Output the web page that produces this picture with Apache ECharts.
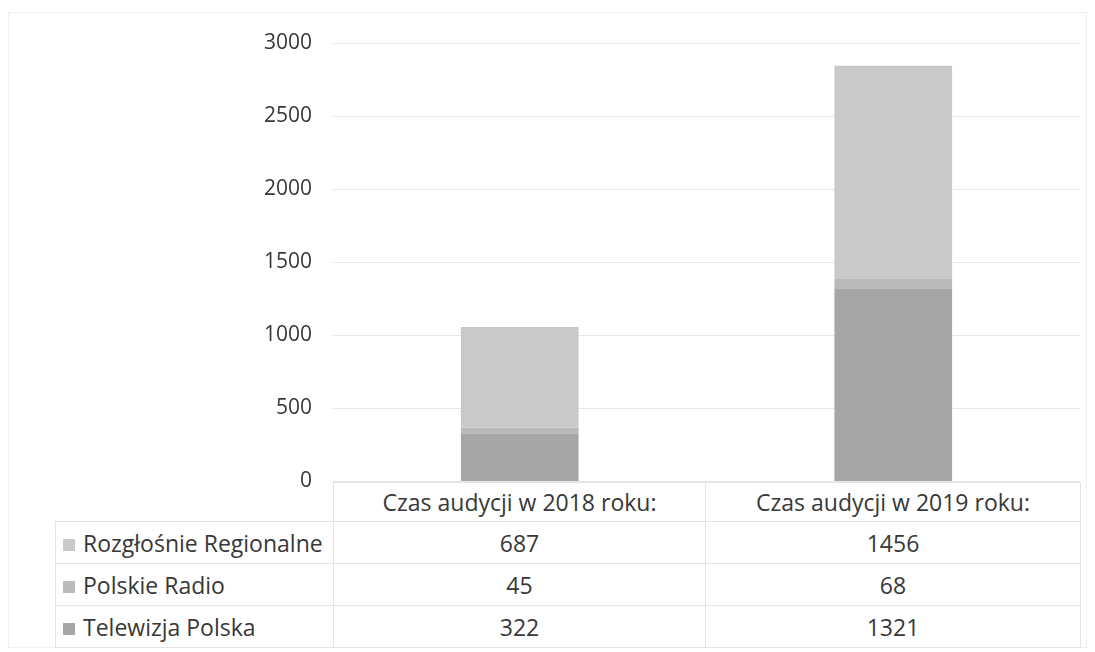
<!DOCTYPE html>
<html>
<head>
<meta charset="utf-8">
<script src="https://cdn.jsdelivr.net/npm/echarts@6/dist/echarts.min.js"></script>
<style>
    body { margin: 0; background: #fff; }
    #wrap { position: relative; width: 1095px; height: 652px; }
    #frame { position: absolute; left: 8px; top: 12px; width: 1079px; height: 636px; border: 1px solid #f0f0f0; box-sizing: border-box; }
    #chart { position: absolute; left: 0; top: 0; width: 1095px; height: 652px; }
    #tbl { position: absolute; left: 55px; top: 482px; border-collapse: collapse; table-layout: fixed; width: 1025px;
           font-family: "Open Sans", sans-serif; font-size: 23px; color: #383838; }
    #tbl td { border: 1px solid #e4e4e4; height: 41px; padding: 0; text-align: center; line-height: 38px; }
    #tbl tr.head td { height: 38px; }
    #tbl td.lab { text-align: left; padding-left: 7px; white-space: nowrap; overflow: visible; }
    #tbl tr.head td.empty { border-left-style: hidden; border-top-style: hidden; }
    .mk { display: inline-block; width: 12px; height: 12px; margin-right: 8px; vertical-align: 1px; }
</style>
</head>
<body>
<div id="wrap">
    <div id="frame"></div>
    <table id="tbl"><colgroup><col style="width:278px"><col style="width:372px"><col style="width:375px"></colgroup></table>
    <div id="chart"></div>
</div>
<script>
var categories = ['Czas audycji w 2018 roku:', 'Czas audycji w 2019 roku:'];
var seriesNames = ['Rozgłośnie Regionalne', 'Polskie Radio', 'Telewizja Polska'];
var rozglosnie = [687, 1456];
var polskieRadio = [45, 68];
var telewizja = [322, 1321];
var colors = {'Rozgłośnie Regionalne': '#c9c9c9', 'Polskie Radio': '#bababa', 'Telewizja Polska': '#a6a6a6'};
var valuesByName = {'Rozgłośnie Regionalne': rozglosnie, 'Polskie Radio': polskieRadio, 'Telewizja Polska': telewizja};

var chart = echarts.init(document.getElementById('chart'));

// stacked from bottom: telewizja, radio, rozglosnie
var order = ['Telewizja Polska', 'Polskie Radio', 'Rozgłośnie Regionalne'];
var series = order.map(function (n) {
    return {
        name: n,
        type: 'bar',
        stack: 'all',
        barWidth: '31.5%',
        data: valuesByName[n],
        itemStyle: {color: colors[n]}
    };
});

var option = {
    animation: false,
    grid: {left: 333, right: 15, top: 43, bottom: 171},
    xAxis: {
        type: 'category',
        data: categories,
        axisLine: {show: false},
        axisTick: {show: false},
        axisLabel: {show: false}
    },
    yAxis: {
        type: 'value',
        min: 0,
        max: 3000,
        interval: 500,
        axisLabel: {
            margin: 21, fontSize: 21, color: '#383838', fontFamily: '"Open Sans", sans-serif',
            formatter: function (v) { return String(v); }
        },
        splitLine: {lineStyle: {color: '#e6e6e6'}}
    },
    series: series
};
chart.setOption(option);

// data table below the chart
var tbl = document.getElementById('tbl');
var html = '<tr class="head"><td class="empty"></td>';
categories.forEach(function (c) { html += '<td>' + c + '</td>'; });
html += '</tr>';
seriesNames.forEach(function (n) {
    html += '<tr><td class="lab"><span class="mk" style="background:' + colors[n] + '"></span>' + n + '</td>';
    valuesByName[n].forEach(function (v) { html += '<td>' + v + '</td>'; });
    html += '</tr>';
});
tbl.insertAdjacentHTML('beforeend', html);
</script>
</body>
</html>
